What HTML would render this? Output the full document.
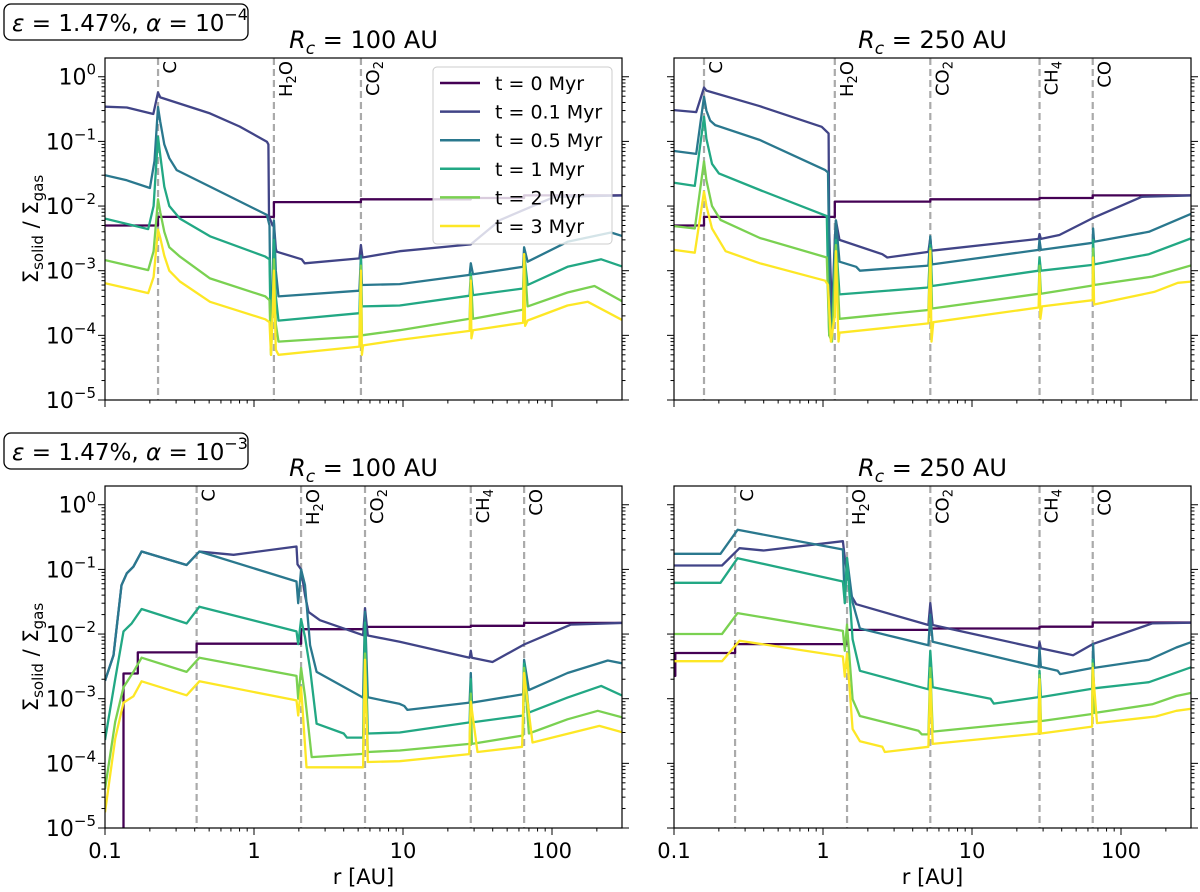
<!DOCTYPE html>
<html><head><meta charset="utf-8"><title>Solid-to-gas ratio profiles</title>
<style>
html,body{margin:0;padding:0;background:#fff;overflow:hidden;width:1200px;height:892px;}
svg{display:block;font-family:"DejaVu Sans","Liberation Sans",sans-serif;}
</style></head>
<body>
<svg id="fig" width="1200" height="892" viewBox="0 0 1200 892" xmlns="http://www.w3.org/2000/svg"></svg>
<script>
const times = ['0','0.1','0.5','1','2','3'];
const yTickExps = [0,-1,-2,-3,-4,-5];
const xTickVals = [0.1,1,10,100];
const xTickLabels = ['0.1','1','10','100'];

const iceTL = [['C',0.227],['H2O',1.36],['CO2',5.22]];
const iceTR = [['C',0.159],['H2O',1.2],['CO2',5.25],['CH4',28.4],['CO',64.6]];
const iceBL = [['C',0.412],['H2O',2.07],['CO2',5.56],['CH4',28.5],['CO',65]];
const iceBR = [['C',0.257],['H2O',1.45],['CO2',5.25],['CH4',28.4],['CO',64.6]];

const TL_t0 = [[0.1,0.005],[0.227,0.005],[0.227,0.0068],[1.36,0.0068],[1.36,0.0115],[5.22,0.0115],[5.22,0.0127],[28.5,0.0127],[28.5,0.0133],[65,0.0133],[65,0.0146],[300,0.0146]];
const TL_t01 = [[0.1,0.344],[0.14,0.335],[0.211,0.265],[0.227,0.57],[0.235,0.48],[0.507,0.271],[0.8,0.17],[1.22,0.099],[1.25,0.09],[1.26,0.007],[1.33,0.005],[1.36,0.0055],[1.4,0.0022],[1.42,0.00197],[2.09,0.0015],[2.19,0.0013],[5.1,0.00155],[5.22,0.0025],[5.35,0.0016],[9.5,0.002],[28.5,0.00255],[45,0.0061],[104,0.0139],[300,0.0146]];
const TL_t05 = [[0.1,0.03],[0.14,0.025],[0.2,0.019],[0.215,0.05],[0.227,0.34],[0.235,0.2],[0.25,0.09],[0.27,0.055],[0.303,0.036],[0.507,0.02],[1.22,0.0073],[1.27,0.005],[1.30,0.00006],[1.33,0.0005],[1.36,0.006],[1.40,0.001],[1.46,0.0004],[5.1,0.00049],[5.22,0.0017],[5.3,0.0006],[9.5,0.00062],[28,0.00086],[28.5,0.0013],[29.5,0.00088],[64,0.00115],[65,0.0023],[68.6,0.00138],[127,0.0028],[249,0.0039],[300,0.0034]];
const TL_t1 = [[0.1,0.0064],[0.195,0.0044],[0.212,0.01],[0.227,0.118],[0.235,0.06],[0.25,0.02],[0.27,0.01],[0.318,0.0064],[0.507,0.0034],[1.19,0.00165],[1.27,0.0015],[1.30,0.00006],[1.33,0.0003],[1.36,0.003],[1.40,0.0004],[1.46,0.000169],[5.1,0.00022],[5.22,0.0015],[5.3,0.00028],[9.5,0.00029],[28,0.00041],[28.5,0.0009],[29.5,0.00042],[64,0.00053],[65,0.0018],[68.6,0.0006],[127,0.00115],[214,0.0015],[300,0.00115]];
const TL_t2 = [[0.1,0.00146],[0.195,0.00102],[0.212,0.002],[0.227,0.0127],[0.235,0.008],[0.25,0.004],[0.27,0.0023],[0.318,0.00165],[0.507,0.00076],[1.19,0.0004],[1.27,0.00035],[1.30,0.00005],[1.33,0.0002],[1.36,0.0015],[1.40,0.00015],[1.46,0.00008],[5.1,0.000096],[5.22,0.0012],[5.3,0.0001],[9.5,0.00012],[28,0.00018],[28.5,0.0008],[29.5,0.00018],[64,0.00025],[65,0.0018],[68.6,0.00028],[127,0.00046],[193,0.00058],[300,0.00033]];
const TL_t3 = [[0.1,0.00064],[0.195,0.00045],[0.212,0.0008],[0.227,0.0043],[0.235,0.0032],[0.25,0.0017],[0.27,0.001],[0.318,0.00068],[0.507,0.00033],[1.19,0.000177],[1.27,0.00016],[1.30,0.00005],[1.33,0.0002],[1.36,0.001],[1.40,0.00006],[1.46,0.00005],[5.1,0.000067],[5.22,0.001],[5.3,0.00005],[5.4,0.00007],[9.5,0.000085],[28,0.000117],[28.5,0.0007],[28.8,0.00009],[29.5,0.00012],[64,0.000157],[65,0.0018],[66,0.00014],[68.6,0.00017],[127,0.00029],[174,0.00033],[300,0.00017]];

const TR_t0 = [[0.1,0.005],[0.159,0.005],[0.159,0.0068],[1.2,0.0068],[1.2,0.0117],[5.25,0.0117],[5.25,0.0127],[28.4,0.0127],[28.4,0.0133],[64.6,0.0133],[64.6,0.0146],[300,0.0146]];
const TR_t01 = [[0.1,0.305],[0.141,0.284],[0.159,0.68],[0.165,0.61],[0.377,0.35],[0.98,0.168],[1.09,0.133],[1.1,0.004],[1.15,0.0002],[1.2,0.003],[1.22,0.006],[1.29,0.003],[2.5,0.0018],[2.7,0.0016],[5.1,0.00195],[5.25,0.0032],[5.35,0.00204],[28,0.0031],[28.4,0.0037],[29,0.0031],[38.6,0.00356],[64.6,0.0065],[138,0.0139],[300,0.0146]];
const TR_t05 = [[0.1,0.071],[0.141,0.064],[0.159,0.49],[0.165,0.3],[0.175,0.21],[0.189,0.179],[0.377,0.105],[1.035,0.036],[1.08,0.033],[1.12,0.0001],[1.16,0.0003],[1.22,0.006],[1.29,0.00138],[1.67,0.00115],[1.77,0.001],[5.1,0.0012],[5.25,0.0034],[5.4,0.00125],[28,0.0021],[28.4,0.003],[29,0.0021],[64.6,0.0027],[65,0.0045],[66,0.0028],[154,0.004],[300,0.0077]];
const TR_t1 = [[0.1,0.023],[0.138,0.0205],[0.159,0.24],[0.165,0.11],[0.18,0.045],[0.2,0.032],[0.377,0.0177],[1.06,0.007],[1.1,0.0001],[1.15,0.00009],[1.22,0.003],[1.29,0.00043],[5.1,0.00055],[5.25,0.0025],[5.4,0.00058],[28,0.001],[28.4,0.0016],[29,0.001],[64.6,0.00123],[65,0.003],[66,0.00125],[154,0.0018],[300,0.0032]];
const TR_t2 = [[0.1,0.0049],[0.138,0.0045],[0.159,0.049],[0.165,0.025],[0.18,0.01],[0.205,0.0061],[0.377,0.0032],[1.06,0.0016],[1.1,0.0001],[1.15,0.00008],[1.22,0.0025],[1.29,0.00018],[5.1,0.000247],[5.25,0.0022],[5.4,0.00026],[28,0.00044],[28.4,0.0012],[29,0.00044],[64.6,0.00059],[65,0.0022],[66,0.0006],[162,0.00081],[300,0.00122]];
const TR_t3 = [[0.1,0.0021],[0.138,0.0019],[0.159,0.0167],[0.165,0.01],[0.18,0.0045],[0.222,0.002],[0.377,0.0013],[1.035,0.0007],[1.08,0.0006],[1.13,0.00008],[1.2,0.0002],[1.22,0.002],[1.27,0.00008],[1.29,0.00011],[5.1,0.000153],[5.25,0.002],[5.35,0.00008],[5.5,0.00016],[28,0.00027],[28.4,0.0009],[28.8,0.00018],[29.5,0.00028],[64.6,0.00035],[65,0.0016],[66,0.0003],[167,0.00047],[241,0.00065],[300,0.00068]];

const BL_t0 = [[0.1,1e-7],[0.133,1e-7],[0.133,0.00245],[0.166,0.00245],[0.166,0.0052],[0.412,0.0052],[0.412,0.0071],[2.07,0.0071],[2.07,0.0119],[5.56,0.0119],[5.56,0.0129],[28.5,0.0129],[28.5,0.0134],[65,0.0134],[65,0.0149],[300,0.0149]];
const BL_t01 = [[0.1,0.0019],[0.114,0.0047],[0.129,0.057],[0.14,0.087],[0.155,0.11],[0.176,0.189],[0.353,0.117],[0.43,0.189],[0.56,0.178],[0.73,0.168],[1.93,0.226],[1.96,0.12],[2.07,0.1],[2.2,0.04],[2.32,0.022],[2.77,0.0164],[5.4,0.0096],[5.56,0.025],[5.8,0.0095],[9.5,0.0076],[28,0.0043],[28.5,0.0055],[29,0.0043],[39.9,0.0037],[65,0.0069],[134,0.014],[300,0.0149]];
const BL_t05 = [[0.1,0.0019],[0.114,0.0047],[0.129,0.057],[0.14,0.087],[0.155,0.11],[0.176,0.189],[0.353,0.117],[0.43,0.189],[1.93,0.065],[1.98,0.03],[2.07,0.1],[2.2,0.057],[2.38,0.0067],[2.63,0.0026],[5.4,0.00104],[5.56,0.022],[5.8,0.00105],[9.5,0.00083],[10.2,0.00077],[10.7,0.00067],[28,0.00087],[28.5,0.0025],[29,0.00087],[64,0.00117],[65,0.004],[70,0.00136],[127,0.0025],[237,0.0039],[300,0.0035]];
const BL_t1 = [[0.1,0.00023],[0.117,0.002],[0.133,0.011],[0.151,0.0146],[0.176,0.0244],[0.353,0.0146],[0.43,0.0265],[1.93,0.011],[1.98,0.007],[2.07,0.017],[2.2,0.009],[2.38,0.0029],[2.63,0.00041],[4.0,0.00029],[4.2,0.00025],[5.4,0.00025],[5.56,0.015],[5.8,0.00029],[9.5,0.0003],[28,0.00043],[28.5,0.002],[29,0.00043],[64,0.00055],[65,0.0035],[70,0.00061],[127,0.00104],[214,0.00158],[300,0.0011]];
const BL_t2 = [[0.1,0.00004],[0.117,0.00044],[0.133,0.0015],[0.155,0.0026],[0.176,0.0043],[0.353,0.0026],[0.43,0.0043],[1.93,0.00225],[1.98,0.001],[2.07,0.003],[2.2,0.0011],[2.44,0.000125],[5.4,0.00014],[5.56,0.005],[5.8,0.00015],[9.5,0.000158],[28,0.0002],[28.5,0.0012],[29,0.0002],[64,0.00027],[65,0.003],[70,0.00029],[127,0.00048],[203,0.00065],[300,0.00051]];
const BL_t3 = [[0.1,0.0000175],[0.117,0.00024],[0.133,0.00087],[0.155,0.00109],[0.176,0.00186],[0.353,0.00113],[0.43,0.00186],[1.93,0.00094],[1.98,0.00055],[2.07,0.0015],[2.25,0.000087],[5.4,0.000087],[5.56,0.004],[5.8,0.000105],[9.5,0.000108],[27.8,0.000139],[28.5,0.0009],[31.6,0.00015],[63,0.00018],[65,0.0025],[74,0.00021],[208,0.00038],[300,0.0003]];

const BR_t0 = [[0.1,0.00225],[0.102,0.00225],[0.102,0.0051],[0.257,0.0051],[0.257,0.007],[1.45,0.007],[1.45,0.0116],[5.25,0.0116],[5.25,0.0122],[28.4,0.0122],[28.4,0.013],[64.6,0.013],[64.6,0.0151],[300,0.0151]];
const BR_t01 = [[0.1,0.115],[0.21,0.115],[0.275,0.213],[0.4,0.196],[1.36,0.273],[1.4,0.15],[1.45,0.09],[1.55,0.039],[1.67,0.029],[5.1,0.0138],[5.25,0.03],[5.45,0.0138],[28,0.006],[28.4,0.0075],[29,0.006],[47.7,0.0047],[64.6,0.007],[162,0.0146],[300,0.015]];
const BR_t05 = [[0.1,0.174],[0.205,0.174],[0.267,0.41],[1.36,0.203],[1.40,0.031],[1.45,0.15],[1.58,0.031],[1.77,0.0122],[5.1,0.0067],[5.25,0.02],[5.45,0.0076],[28,0.0031],[28.4,0.006],[29,0.0031],[37.6,0.0027],[39,0.0024],[64.6,0.003],[65,0.007],[66,0.003],[154,0.004],[235,0.0062],[300,0.0076]];
const BR_t1 = [[0.1,0.062],[0.205,0.062],[0.267,0.149],[1.36,0.065],[1.40,0.03],[1.45,0.15],[1.58,0.0083],[1.77,0.0027],[5.1,0.0014],[5.25,0.0055],[5.45,0.0015],[13.3,0.001],[14,0.00084],[28,0.00106],[28.4,0.0027],[29,0.00106],[64,0.00143],[64.6,0.004],[66,0.00145],[154,0.0018],[300,0.0031]];
const BR_t2 = [[0.1,0.01],[0.21,0.01],[0.267,0.0211],[1.36,0.0112],[1.40,0.0055],[1.45,0.014],[1.58,0.00098],[1.77,0.00054],[4.37,0.00032],[4.6,0.00028],[5.1,0.00028],[5.25,0.003],[5.45,0.00031],[28,0.00045],[28.4,0.0023],[29,0.00045],[64,0.00058],[64.6,0.0035],[66,0.0006],[162,0.00082],[235,0.0011],[300,0.00124]];
const BR_t3 = [[0.1,0.0038],[0.21,0.0038],[0.275,0.0079],[1.36,0.0045],[1.40,0.0022],[1.45,0.005],[1.58,0.00034],[1.77,0.00022],[2.5,0.00018],[2.6,0.00015],[5.1,0.00018],[5.25,0.002],[5.45,0.0002],[28,0.00029],[28.4,0.002],[29,0.00029],[64,0.00037],[64.6,0.003],[69,0.00042],[171,0.00053],[235,0.00065],[300,0.0007]];

const colors = ['#440154','#414487','#2a788e','#22a884','#7ad151','#fde725'];
const NS = 'http://www.w3.org/2000/svg';
const svg = document.getElementById('fig');
const W = 517, H = 342, LXMIN = -1, LXMAX = -1 + 517/149, LYMIN = -5, LYMAX = 0.29;

function mk(tag, attrs, parent) {
  const e = document.createElementNS(NS, tag);
  for (const k in attrs) e.setAttribute(k, attrs[k]);
  (parent || svg).appendChild(e);
  return e;
}

const panels = [
  {id:'top-left', x0:105, y0:58, rc:'100', ice:iceTL, series:[TL_t0,TL_t01,TL_t05,TL_t1,TL_t2,TL_t3], left:true, bottom:false},
  {id:'top-right', x0:674, y0:58, rc:'250', ice:iceTR, series:[TR_t0,TR_t01,TR_t05,TR_t1,TR_t2,TR_t3], left:false, bottom:false},
  {id:'bottom-left', x0:105, y0:486, rc:'100', ice:iceBL, series:[BL_t0,BL_t01,BL_t05,BL_t1,BL_t2,BL_t3], left:true, bottom:true},
  {id:'bottom-right', x0:674, y0:486, rc:'250', ice:iceBR, series:[BR_t0,BR_t01,BR_t05,BR_t1,BR_t2,BR_t3], left:false, bottom:true}
];

function setIceLabel(t, name) {
  const sub = {H2O:['H','2','O'], CO2:['CO','2',''], CH4:['CH','4','']}[name];
  if (!sub) { t.textContent = name; return; }
  t.appendChild(document.createTextNode(sub[0]));
  const s = mk('tspan', {'font-size':'13', dy:'4'}, t);
  s.textContent = sub[1];
  if (sub[2]) { const s2 = mk('tspan', {dy:'-4'}, t); s2.textContent = sub[2]; }
}

panels.forEach((p, pi) => {
  const xs = r => p.x0 + (Math.log10(r) - LXMIN) / (LXMAX - LXMIN) * W;
  const ys = v => p.y0 + (LYMAX - Math.log10(v)) / (LYMAX - LYMIN) * H;
  const g = mk('g', {});
  
  
  const cp = mk('clipPath', {id:'clip' + pi}, g);
  mk('rect', {x:p.x0, y:p.y0, width:W, height:H}, cp);

  p.ice.forEach(ic => {
    const x = xs(ic[1]);
    const l = mk('line', {x1:x, x2:x, y1:p.y0, y2:p.y0+H, stroke:'#aaa', 'stroke-width':2.2, 'stroke-dasharray':'7,4'}, g);
    
    
    const t = mk('text', {transform:'translate(' + (x+18) + ',' + (p.y0+3) + ') rotate(-90)', 'text-anchor':'end', 'font-size':'18', fill:'#000'}, g);
    
    
    setIceLabel(t, ic[0]);
  });

  const sg = mk('g', {'clip-path':'url(#clip' + pi + ')'}, g);
  p.series.forEach((s, si) => {
    const d = s.map((pt, i) => (i ? 'L' : 'M') + xs(pt[0]).toFixed(1) + ',' + ys(pt[1]).toFixed(1)).join('');
    const path = mk('path', {d:d, fill:'none', stroke:colors[si], 'stroke-width':2.3, 'stroke-linejoin':'round'}, sg);
    
    
  });

  const fr = mk('rect', {x:p.x0, y:p.y0, width:W, height:H, fill:'none', stroke:'#000', 'stroke-width':1.2}, g);
  
  

  for (let e = -5; e <= 0; e++) {
    for (let m = 1; m <= 9; m++) {
      const v = m * Math.pow(10, e);
      if (Math.log10(v) > LYMAX) continue;
      const y = ys(v), len = m === 1 ? 7 : 3.5;
      mk('line', {x1:p.x0-len, x2:p.x0, y1:y, y2:y, stroke:'#000', 'stroke-width':1}, g);
      mk('line', {x1:p.x0+W, x2:p.x0+W+len, y1:y, y2:y, stroke:'#000', 'stroke-width':1}, g);
    }
  }
  if (p.left) {
    yTickExps.forEach(e => {
      const t = mk('text', {x:p.x0-9, y:ys(Math.pow(10, e))+8, 'text-anchor':'end', 'font-size':'22'}, g);
      
      
      t.appendChild(document.createTextNode('10'));
      const s = mk('tspan', {'font-size':'15', dy:'-10'}, t);
      s.textContent = e === 0 ? '0' : '\u2212' + (-e);
    });
    const yl = mk('text', {transform:'translate(38,' + (p.y0+H/2) + ') rotate(-90)', 'text-anchor':'middle', 'font-size':'21'}, g);
    
    
    yl.appendChild(document.createTextNode('\u03A3'));
    const a = mk('tspan', {'font-size':'15', dy:'5'}, yl); a.textContent = 'solid';
    const b = mk('tspan', {dy:'-5'}, yl); b.textContent = ' / \u03A3';
    const c = mk('tspan', {'font-size':'15', dy:'5'}, yl); c.textContent = 'gas';
  }
  for (let e = -1; e <= 2; e++) {
    for (let m = 1; m <= 9; m++) {
      const r = m * Math.pow(10, e);
      if (Math.log10(r) > LXMAX) continue;
      const x = xs(r), len = m === 1 ? 7 : 3.5;
      mk('line', {x1:x, x2:x, y1:p.y0+H, y2:p.y0+H+len, stroke:'#000', 'stroke-width':1}, g);
    }
  }
  if (p.bottom) {
    xTickVals.forEach((v, i) => {
      const t = mk('text', {x:xs(v), y:p.y0+H+30, 'text-anchor':'middle', 'font-size':'21'}, g);
      
      
      t.textContent = xTickLabels[i];
    });
    const xl = mk('text', {x:p.x0+W/2, y:p.y0+H+56, 'text-anchor':'middle', 'font-size':'21'}, g);
    
    
    xl.textContent = 'r [AU]';
  }
  const ti = mk('text', {x:p.x0+W/2, y:p.y0-10, 'text-anchor':'middle', 'font-size':'24'}, g);
  
  
  const r1 = mk('tspan', {'font-style':'italic'}, ti); r1.textContent = 'R';
  const r2 = mk('tspan', {'font-style':'italic', 'font-size':'17', dy:'6'}, ti); r2.textContent = 'c';
  const r3 = mk('tspan', {dy:'-6'}, ti); r3.textContent = ' = ' + p.rc + ' AU';
});

[['4', 4], ['3', 433]].forEach(bx => {
  const g = mk('g', {});
  
  
  mk('rect', {x:4, y:bx[1], width:244, height:36, rx:7, fill:'#fff', stroke:'#000', 'stroke-width':1.3}, g);
  const t = mk('text', {x:12, y:bx[1]+27, 'font-size':'23'}, g);
  const a = mk('tspan', {'font-style':'italic'}, t); a.textContent = '\u03B5';
  const b = mk('tspan', {}, t); b.textContent = ' = 1.47%, ';
  const c = mk('tspan', {'font-style':'italic'}, t); c.textContent = '\u03B1';
  const d = mk('tspan', {}, t); d.textContent = ' = 10';
  const e = mk('tspan', {'font-size':'16', dy:'-11'}, t); e.textContent = '\u2212' + bx[0];
});

const lg = mk('g', {});


mk('rect', {x:433, y:67, width:179, height:177, rx:4, fill:'#fff', 'fill-opacity':0.8, stroke:'#ccc', 'stroke-width':1}, lg);
times.forEach((tm, i) => {
  const y = 83 + i * 28.6;
  const e = mk('g', {}, lg);
  
  
  mk('line', {x1:440, x2:480, y1:y, y2:y, stroke:colors[i], 'stroke-width':2.5}, e);
  const t = mk('text', {x:495, y:y+7, 'font-size':'19'}, e);
  t.textContent = 't = ' + tm + ' Myr';
});
</script>
</body></html>
